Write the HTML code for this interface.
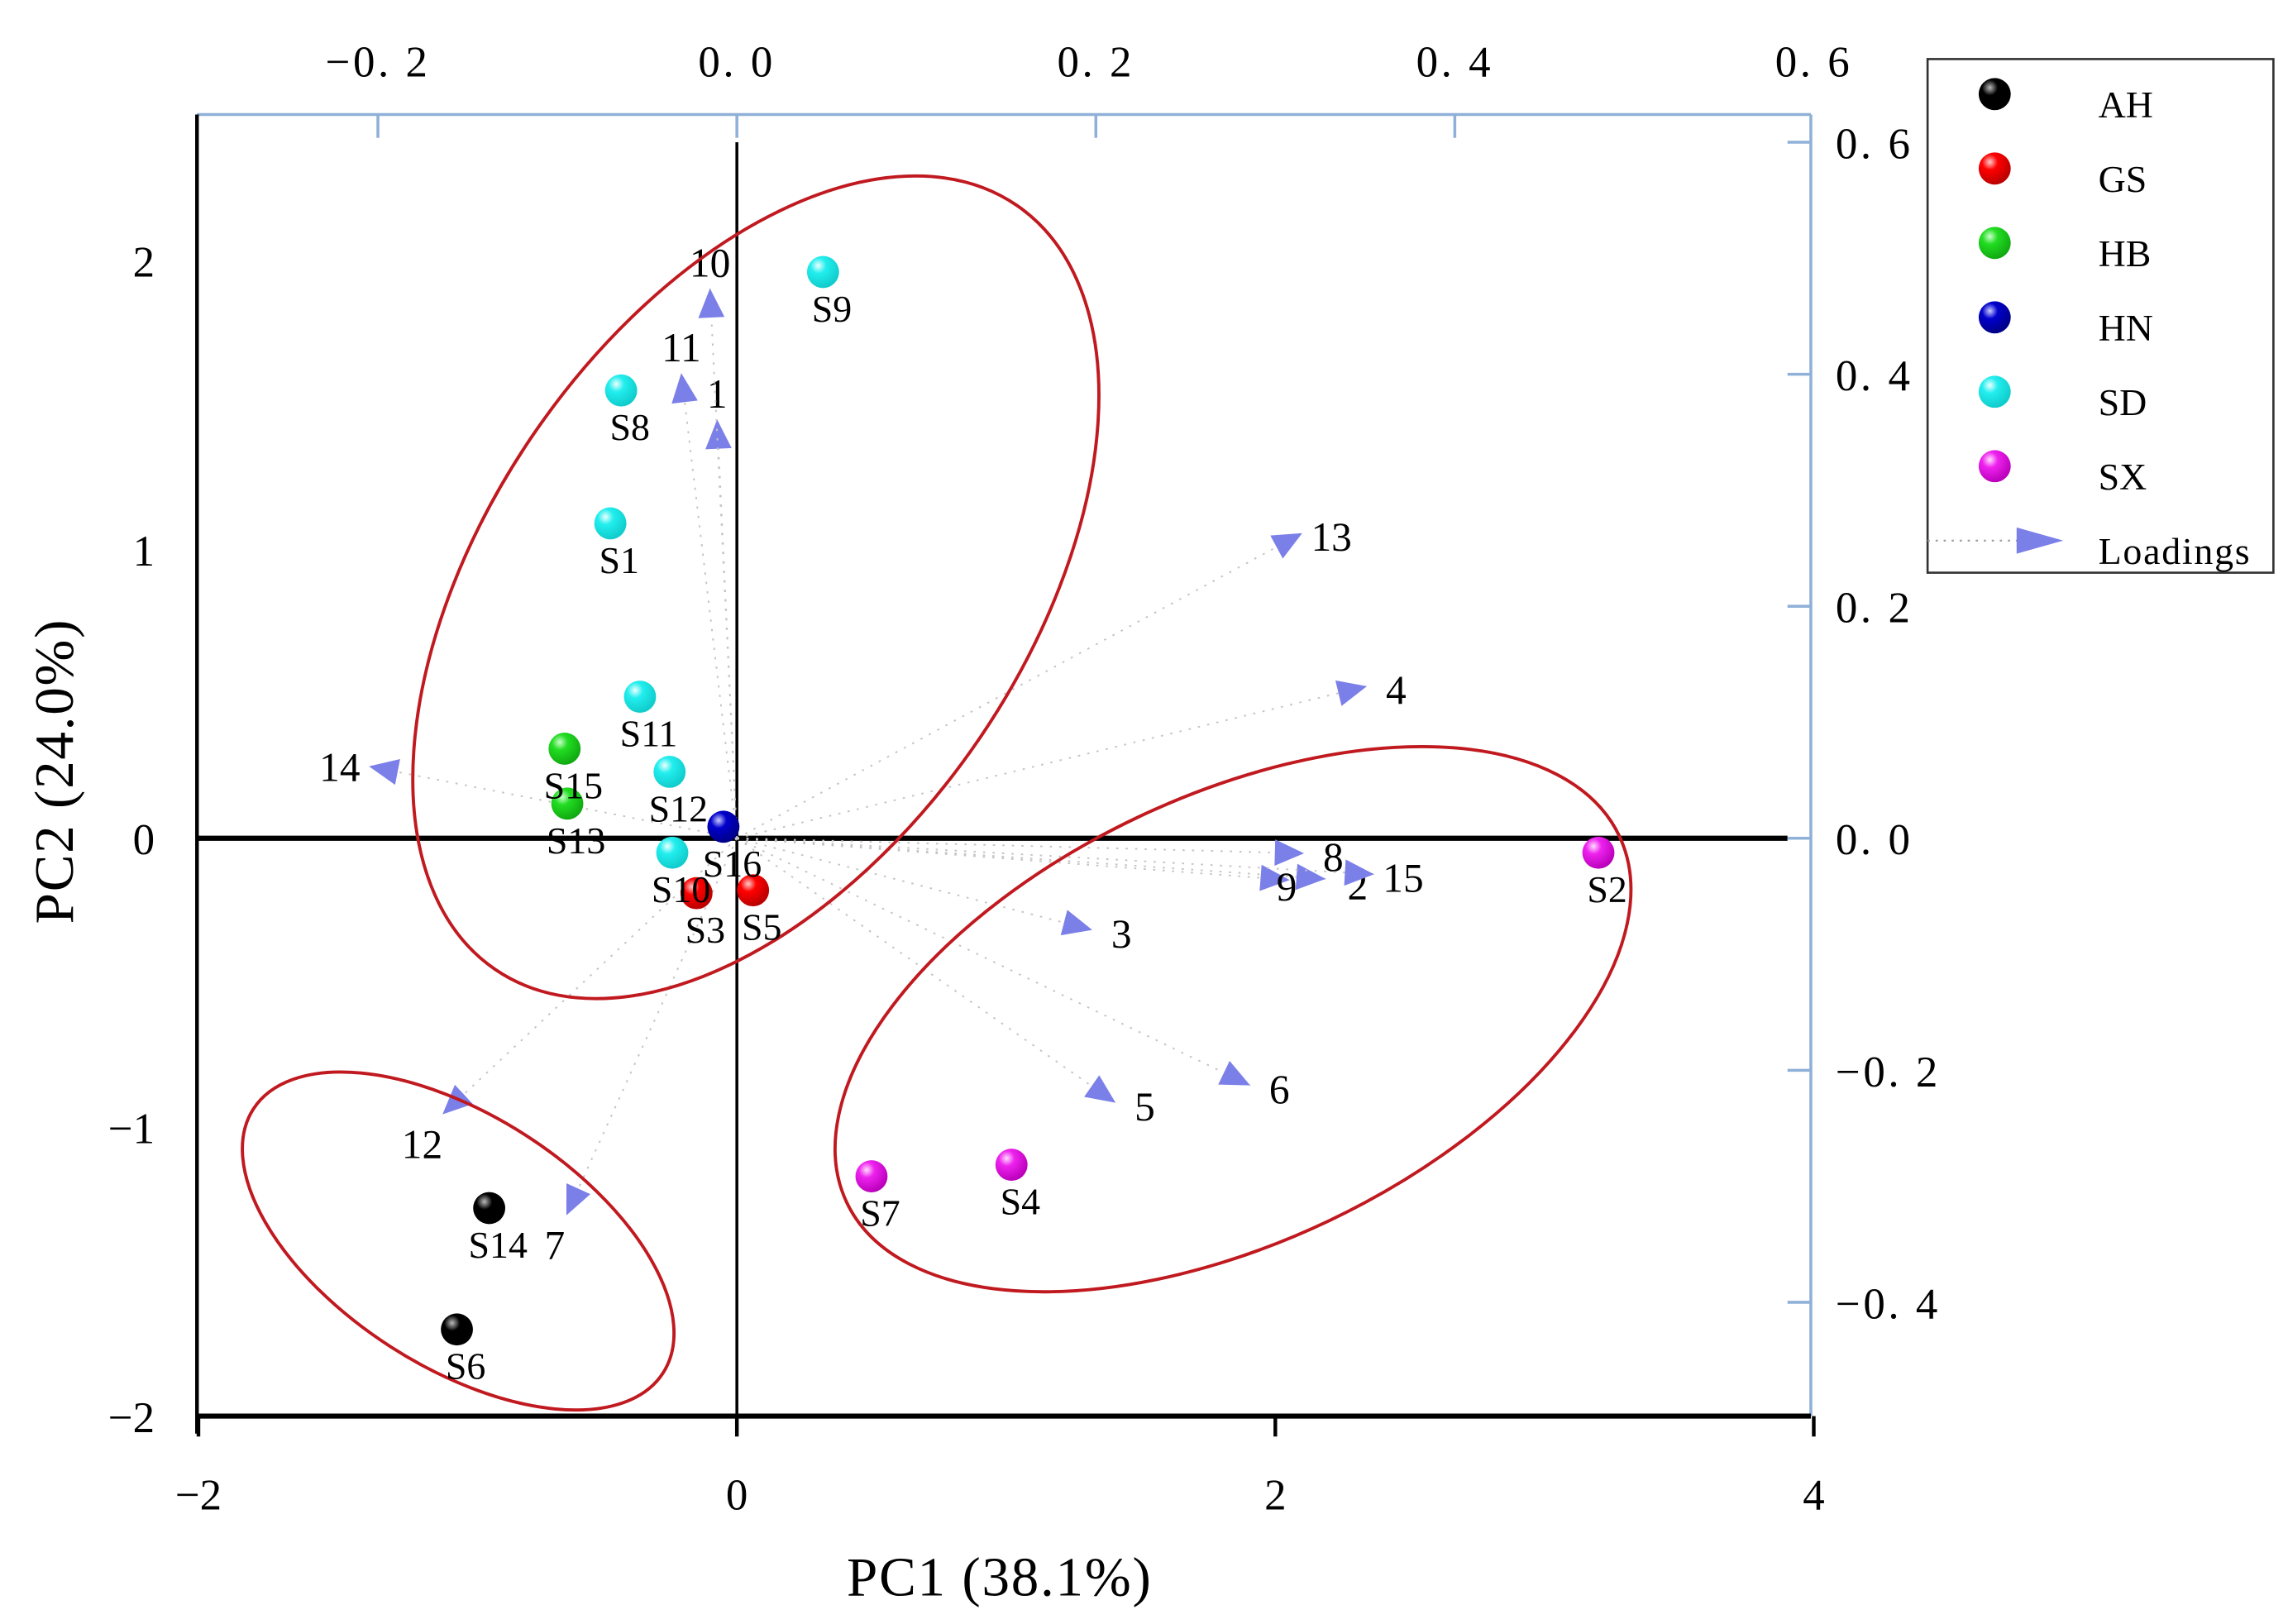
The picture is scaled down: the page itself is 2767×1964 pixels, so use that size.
<!DOCTYPE html>
<html><head><meta charset="utf-8"><style>
html,body{margin:0;padding:0;background:#fff;}
svg{display:block;font-family:"Liberation Serif","Noto Serif CJK SC",serif;}
</style></head><body>
<svg id="chart" width="2767" height="1964" viewBox="0 0 1568 1112" xmlns="http://www.w3.org/2000/svg">
<defs>
<radialGradient id="g-AH" cx="35%" cy="30%" r="70%"><stop offset="0" stop-color="#bbb"/><stop offset="0.35" stop-color="#000"/><stop offset="1" stop-color="#000"/></radialGradient>
<radialGradient id="g-GS" cx="35%" cy="30%" r="70%"><stop offset="0" stop-color="#fcc"/><stop offset="0.35" stop-color="#f00"/><stop offset="1" stop-color="#b00"/></radialGradient>
<radialGradient id="g-HB" cx="35%" cy="30%" r="70%"><stop offset="0" stop-color="#cfc"/><stop offset="0.35" stop-color="#2d2"/><stop offset="1" stop-color="#1a1"/></radialGradient>
<radialGradient id="g-HN" cx="35%" cy="30%" r="70%"><stop offset="0" stop-color="#ccf"/><stop offset="0.35" stop-color="#00c"/><stop offset="1" stop-color="#008"/></radialGradient>
<radialGradient id="g-SD" cx="35%" cy="30%" r="70%"><stop offset="0" stop-color="#eff"/><stop offset="0.35" stop-color="#2ee"/><stop offset="1" stop-color="#1cc"/></radialGradient>
<radialGradient id="g-SX" cx="35%" cy="30%" r="70%"><stop offset="0" stop-color="#fdf"/><stop offset="0.35" stop-color="#e2e"/><stop offset="1" stop-color="#b0b"/></radialGradient>
</defs>
<g id="axes"></g>
<g id="loadings"></g>
<g id="ellipses">
<ellipse cx="518" cy="402" rx="317" ry="185" transform="rotate(-55.7 518 402)" fill="none" stroke="#c0191f" stroke-width="2.2"/>
<ellipse cx="845" cy="698" rx="293" ry="153" transform="rotate(-25.4 845 698)" fill="none" stroke="#c0191f" stroke-width="2.2"/>
<ellipse cx="314" cy="850" rx="167" ry="86" transform="rotate(32.8 314 850)" fill="none" stroke="#c0191f" stroke-width="2.2"/>
</g>
<g id="scores"></g>
<g id="legend"></g>
</svg>
<script>
const sampleNames = ["S1","S2","S3","S4","S5","S6","S7","S8","S9","S10","S11","S12","S13","S14","S15","S16"];
const sampleGroups = ["SD","SX","GS","SX","GS","AH","SX","SD","SD","SD","SD","SD","HB","AH","HB","HN"];
const pc1Scores = [-0.47,3.20,-0.15,1.02,0.06,-1.04,0.50,-0.43,0.32,-0.24,-0.36,-0.25,-0.63,-0.92,-0.64,-0.05];
const pc2Scores = [1.09,-0.05,-0.19,-1.13,-0.18,-1.70,-1.17,1.55,1.96,-0.05,0.49,0.23,0.12,-1.28,0.31,0.04];
const loadingNames = ["1","2","3","4","5","6","7","8","9","10","11","12","13","14","15"];
const loadingPC1 = [-0.011,0.328,0.198,0.351,0.211,0.286,-0.095,0.316,0.308,-0.015,-0.031,-0.164,0.315,-0.205,0.355];
const loadingPC2 = [0.361,-0.035,-0.079,0.131,-0.228,-0.213,-0.325,-0.013,-0.036,0.474,0.401,-0.238,0.263,0.062,-0.031];
const bottomTicks = [-2,0,2,4];
const leftTicks = [-2,-1,0,1,2];
const topTicks = ["-0.2","0.0","0.2","0.4","0.6"];
const rightTicks = ["-0.4","-0.2","0.0","0.2","0.4","0.6"];
const groups = ["AH","GS","HB","HN","SD","SX"];

const NS="http://www.w3.org/2000/svg";
const X0=135,X1=1241,Y0=78,Y1=970;
const sx=v=>505+v*184.5, sy=v=>574-v*198;
const lx=v=>505+v*1230, ly=v=>574-v*795;
function mk(tag,attrs,parent,text){const e=document.createElementNS(NS,tag);for(const k in attrs)e.setAttribute(k,attrs[k]);if(text!==undefined)e.textContent=text;parent.appendChild(e);return e;}
const ax=document.getElementById('axes');
let e;
e=mk('line',{x1:X0,y1:Y0,x2:X1,y2:Y0,stroke:'#8fb0d8','stroke-width':2},ax);


e=mk('line',{x1:X1,y1:Y0,x2:X1,y2:Y1,stroke:'#8fb0d8','stroke-width':2},ax);


e=mk('line',{x1:X0,y1:Y0,x2:X0,y2:Y1+12,stroke:'#000','stroke-width':2.5},ax);


e=mk('line',{x1:X0,y1:Y1,x2:X1,y2:Y1,stroke:'#000','stroke-width':3.5},ax);


e=mk('line',{x1:X0,y1:574,x2:1225,y2:574,stroke:'#000','stroke-width':3.5},ax);


e=mk('line',{x1:505,y1:97,x2:505,y2:Y1,stroke:'#000','stroke-width':2},ax);


bottomTicks.forEach(t=>{
  const x=sx(t);
  e=mk('line',{x1:x,y1:Y1,x2:x,y2:Y1+14,stroke:'#000','stroke-width':2.5},ax);
  
  
  e=mk('text',{x:x,y:1034,'font-size':30,'text-anchor':'middle'},ax,t<0?'\u2212'+(-t):String(t));
  
  
});
leftTicks.forEach(t=>{
  const y=sy(t);
  e=mk('text',{x:106,y:y+11,'font-size':30,'text-anchor':'end'},ax,t<0?'\u2212'+(-t):String(t));
  
  
});
topTicks.forEach(t=>{
  const x=lx(parseFloat(t));
  if(x<X1-2){
    e=mk('line',{x1:x,y1:Y0,x2:x,y2:Y0+16,stroke:'#8fb0d8','stroke-width':2},ax);
    
    
  }
  e=mk('text',{x:x,y:52,'font-size':30,'text-anchor':'middle','letter-spacing':'2'},ax,t.replace('.', '. ').replace('-','\u2212'));
  
  
});
rightTicks.forEach(t=>{
  const y=ly(parseFloat(t));
  e=mk('line',{x1:X1,y1:y,x2:X1-16,y2:y,stroke:'#8fb0d8','stroke-width':2},ax);
  
  
  e=mk('text',{x:1258,y:y+11,'font-size':30,'letter-spacing':'2'},ax,t.replace('.', '. ').replace('-','\u2212'));
  
  
});
e=mk('text',{x:685,y:1093,'font-size':38,'text-anchor':'middle','letter-spacing':'1'},ax,'PC1 (38.1%)');


e=mk('text',{x:0,y:0,'font-size':38,'text-anchor':'middle','letter-spacing':'1',transform:'translate(50 528) rotate(-90)'},ax,'PC2 (24.0%)');



const ld=document.getElementById('loadings');
const labOff={"9":[-2,14],"2":[22,14],"10":[0,-8],"11":[0,-8],"1":[0,-8],"12":[-14,30],"7":[-8,30],"14":[-20,10]};
loadingNames.forEach((n,i)=>{
  const x=lx(loadingPC1[i]), y=ly(loadingPC2[i]);
  e=mk('line',{x1:505,y1:574,x2:x,y2:y,stroke:'#c4c4c4','stroke-width':1.1,'stroke-dasharray':'1.5 5'},ld);
  
  
  const a=Math.atan2(y-574,x-505)*180/Math.PI;
  e=mk('polygon',{points:'0,0 -20,-9 -20,9',fill:'#7b7fe8',transform:`translate(${x} ${y}) rotate(${a})`},ld);
  
  
  const o=labOff[n]||[20,12];
  e=mk('text',{x:x+o[0],y:y+o[1],'font-size':28,'text-anchor':'middle'},ld,n);
  
  
});

const sc=document.getElementById('scores');
sampleNames.forEach((n,i)=>{
  const x=sx(pc1Scores[i]), y=sy(pc2Scores[i]);
  e=mk('circle',{cx:x,cy:y,r:11,fill:'url(#g-'+sampleGroups[i]+')'},sc);
  
  
  e=mk('text',{x:x+6,y:y+34,'font-size':26,'text-anchor':'middle'},sc,n);
  
  
});

const lg=document.getElementById('legend');
e=mk('rect',{x:1321,y:40,width:237,height:352,fill:'#fff',stroke:'#333','stroke-width':1.5},lg);


groups.forEach((g,i)=>{
  const y=64+i*51;
  e=mk('circle',{cx:1367,cy:y,r:11,fill:'url(#g-'+g+')'},lg);
  
  
  e=mk('text',{x:1438,y:y+16,'font-size':26},lg,g);
  
  
});
e=mk('line',{x1:1321,y1:370,x2:1390,y2:370,stroke:'#999','stroke-width':1.2,'stroke-dasharray':'1.5 4'},lg);


e=mk('polygon',{points:'1382,361 1382,379 1414,370',fill:'#7b7fe8'},lg);


e=mk('text',{x:1438,y:386,'font-size':26,'letter-spacing':'1'},lg,'Loadings');


</script>
</body></html>
